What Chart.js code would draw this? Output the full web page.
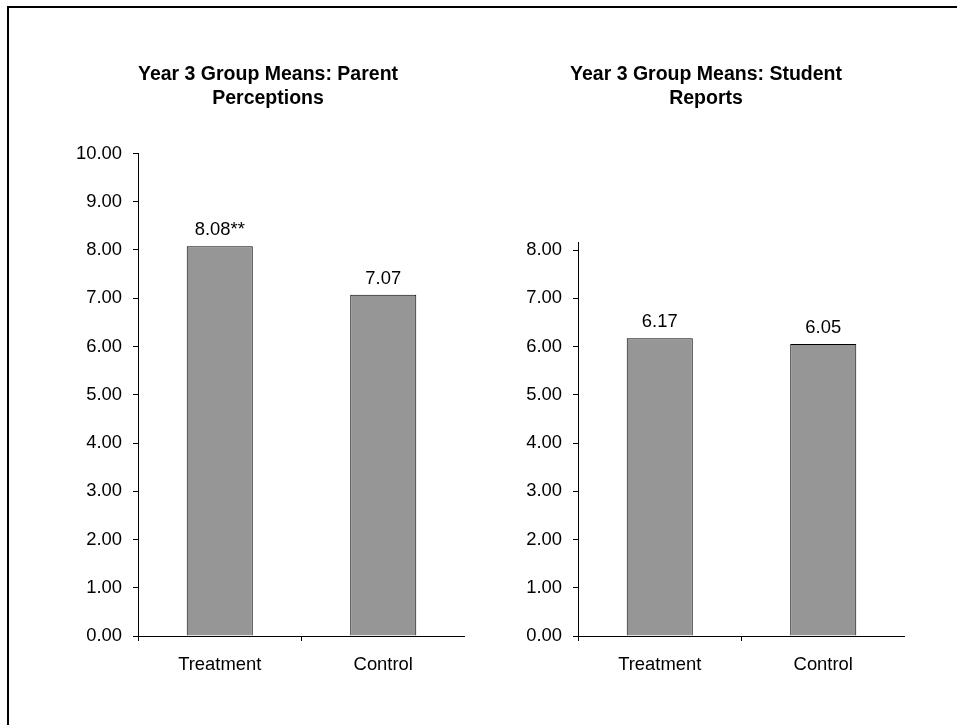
<!DOCTYPE html>
<html>
<head>
<meta charset="utf-8">
<script src="https://cdn.jsdelivr.net/npm/chart.js@4/dist/chart.umd.min.js"></script>
<style>
  html, body { margin: 0; padding: 0; background: #fff; width: 957px; height: 725px; overflow: hidden; }
  #frame { position: absolute; left: 7px; top: 6px; width: 1200px; height: 1200px; border-left: 2px solid #000; border-top: 2px solid #000; }
  canvas { position: absolute; top: 0; }
  #c1 { left: 71px; }
  #c2 { left: 507px; }
</style>
</head>
<body>
<div id="frame"></div>
<canvas id="c1" width="394" height="725"></canvas>
<canvas id="c2" width="398" height="725"></canvas>
<script>
const categories = ['Treatment', 'Control'];
const parentValues = [8.08, 7.07];
const parentLabels = ['8.08**', '7.07'];
const studentValues = [6.17, 6.05];
const studentLabels = ['6.17', '6.05'];
const parentTitle = ['Year 3 Group Means: Parent', 'Perceptions'];
const studentTitle = ['Year 3 Group Means: Student', 'Reports'];
const parentTicks = [0, 1, 2, 3, 4, 5, 6, 7, 8, 9, 10];
const studentTicks = [0, 1, 2, 3, 4, 5, 6, 7, 8];
const parentMax = 10;
const studentMax = 8.15;

const FONT = "'Liberation Sans', Arial, Helvetica, sans-serif";
const TICK_SIZE = 18.4;

const valueLabelPlugin = {
  id: 'valueLabels',
  afterDatasetsDraw(chart, args, opts) {
    const ctx = chart.ctx;
    const meta = chart.getDatasetMeta(0);
    ctx.save();
    ctx.font = TICK_SIZE + 'px ' + FONT;
    ctx.fillStyle = '#000';
    ctx.textAlign = 'center';
    ctx.textBaseline = 'alphabetic';
    meta.data.forEach((bar, i) => {
      ctx.fillText(opts.labels[i], bar.x, bar.y - 11);
    });
    ctx.restore();
  }
};

function makeChart(id, values, labels, title, maxVal, tickVals, yWidth, titleBottom) {
  return new Chart(document.getElementById(id), {
    type: 'bar',
    data: {
      labels: categories,
      datasets: [{
        data: values,
        backgroundColor: '#969696',
        borderColor: '#000',
        borderWidth: 1,
        categoryPercentage: 1.0,
        barPercentage: 0.404
      }]
    },
    options: {
      responsive: false,
      devicePixelRatio: 1,
      animation: false,
      layout: { padding: 0 },
      plugins: {
        legend: { display: false },
        tooltip: { enabled: false },
        title: {
          display: true,
          text: title,
          color: '#000',
          font: { family: FONT, size: 19.5, weight: 'bold', lineHeight: 1.2 },
          padding: { top: 63.3, bottom: titleBottom }
        },
        valueLabels: { labels: labels }
      },
      scales: {
        x: {
          offset: true,
          grid: { display: true, drawOnChartArea: false, drawTicks: true, tickLength: 5, color: '#000', offset: true },
          border: { display: true, color: '#000', width: 1 },
          ticks: { color: '#000', padding: 12.5, font: { family: FONT, size: TICK_SIZE }, maxRotation: 0 },
          afterFit(scale) { scale.height = 89; }
        },
        y: {
          min: 0,
          max: maxVal,
          grid: { display: true, drawOnChartArea: false, drawTicks: true, tickLength: 5, color: '#000' },
          border: { display: true, color: '#000', width: 1 },
          ticks: {
            color: '#000',
            padding: 11,
            font: { family: FONT, size: TICK_SIZE },
            callback: v => Number(v).toFixed(2)
          },
          afterBuildTicks(scale) {
            scale.ticks = tickVals.map(v => ({ value: v }));
          },
          afterFit(scale) { scale.width = yWidth; }
        }
      }
    },
    plugins: [valueLabelPlugin]
  });
}

makeChart('c1', parentValues, parentLabels, parentTitle, parentMax, parentTicks, 67, 43.4);
makeChart('c2', studentValues, studentLabels, studentTitle, studentMax, studentTicks, 71, 132.7);
</script>
</body>
</html>
